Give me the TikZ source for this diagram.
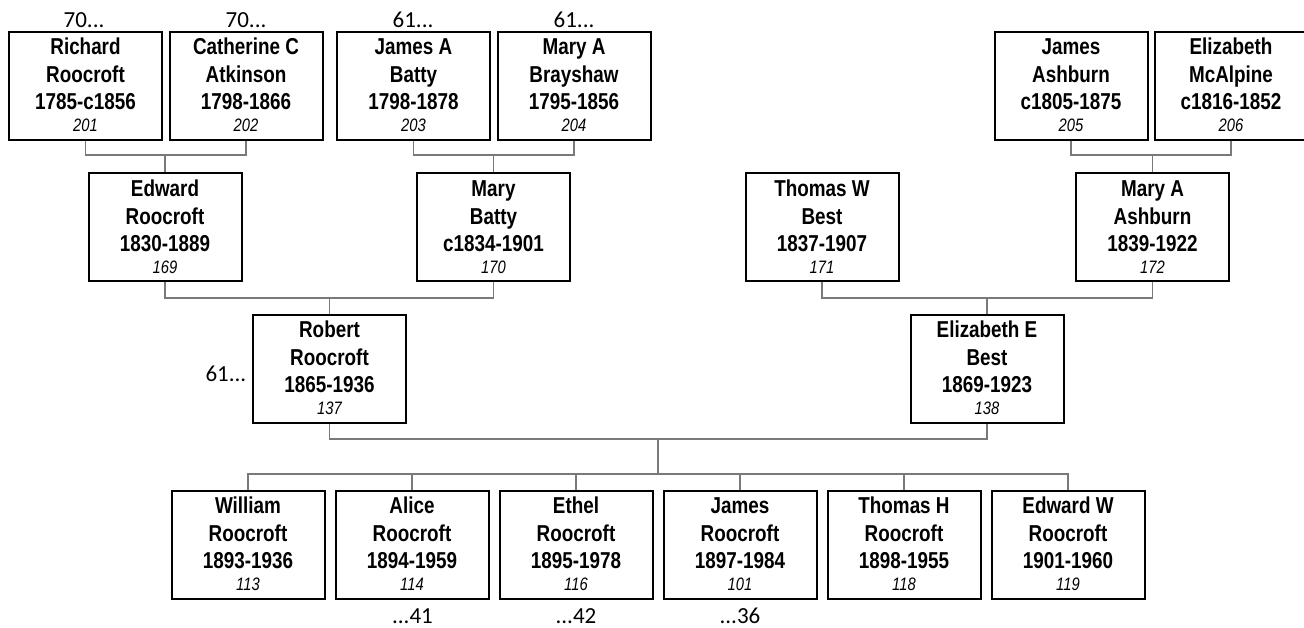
\documentclass[tikz,border=0pt]{standalone}
\usepackage{fontspec}
\setmainfont[FakeStretch=0.82]{Liberation Sans}
\newfontfamily\lblfont{Carlito}
\usetikzlibrary{calc}
\tikzset{
  pbox/.style={draw=black, line width=2pt, outer sep=1pt, fill=white,
    minimum width=153pt, minimum height=108pt, inner sep=0pt},
  nametext/.style={anchor=base, inner sep=0pt, font=\fontsize{23}{27}\selectfont\bfseries},
  numtext/.style={anchor=base, inner sep=0pt, font=\fontsize{18}{22}\selectfont\itshape},
  lbl/.style={inner sep=0pt, font=\lblfont\fontsize{23}{26}\selectfont},
  conn/.style={draw=gray!95!black, line width=1.6pt}
}
\newcommand{\person}[7]{%
  \node[pbox] (#1) at (#2,#3) {};
  \node[nametext] (#1-a) at (#2,#3-31) {#4};
  \node[nametext] (#1-b) at (#2,#3-3) {#5};
  \node[nametext] (#1-c) at (#2,#3+24) {#6};
  \node[numtext] (#1-d) at (#2,#3+46) {#7};
}
\begin{document}
\begin{tikzpicture}[x=1pt,y=-1pt]
\useasboundingbox (0,0) rectangle (1304,627);
\clip (0,0) rectangle (1304,627);
\fill[white] (0,0) rectangle (1304,627);
% levels
\coordinate (L1) at (0,155);
\coordinate (L2) at (0,298);
\coordinate (L3) at (0,439);
\coordinate (L4) at (0,474);
% row 1
\person{rich}{85.5}{85.5}{Richard}{Roocroft}{1785-c1856}{201}
\person{cath}{246}{85.5}{Catherine C}{Atkinson}{1798-1866}{202}
\person{jamesa}{413.5}{85.5}{James A}{Batty}{1798-1878}{203}
\person{marybr}{574}{85.5}{Mary A}{Brayshaw}{1795-1856}{204}
\person{jamesash}{1071}{85.5}{James}{Ashburn}{c1805-1875}{205}
\person{elizmc}{1231}{85.5}{Elizabeth}{McAlpine}{c1816-1852}{206}
% row 2
\person{edw}{165}{227}{Edward}{Roocroft}{1830-1889}{169}
\person{marybat}{493.5}{227}{Mary}{Batty}{c1834-1901}{170}
\person{thomw}{822}{227}{Thomas W}{Best}{1837-1907}{171}
\person{maryash}{1152.5}{227}{Mary A}{Ashburn}{1839-1922}{172}
% row 3
\person{rob}{329.5}{368.5}{Robert}{Roocroft}{1865-1936}{137}
\person{elizb}{987}{368.5}{Elizabeth E}{Best}{1869-1923}{138}
% row 4
\person{c1}{248}{544.5}{William}{Roocroft}{1893-1936}{113}
\person{c2}{412}{544.5}{Alice}{Roocroft}{1894-1959}{114}
\person{c3}{576}{544.5}{Ethel}{Roocroft}{1895-1978}{116}
\person{c4}{740}{544.5}{James}{Roocroft}{1897-1984}{101}
\person{c5}{904}{544.5}{Thomas H}{Roocroft}{1898-1955}{118}
\person{c6}{1068}{544.5}{Edward W}{Roocroft}{1901-1960}{119}
% connectors row1 -> row2
\draw[conn] (rich.south) -- (rich.south |- L1) -- (cath.south |- L1) -- (cath.south);
\draw[conn] (edw.north) -- (edw.north |- L1);
\draw[conn] (jamesa.south) -- (jamesa.south |- L1) -- (marybr.south |- L1) -- (marybr.south);
\draw[conn] (marybat.north) -- (marybat.north |- L1);
\draw[conn] (jamesash.south) -- (jamesash.south |- L1) -- (elizmc.south |- L1) -- (elizmc.south);
\draw[conn] (maryash.north) -- (maryash.north |- L1);
% row2 -> row3
\draw[conn] (edw.south) -- (edw.south |- L2) -- (marybat.south |- L2) -- (marybat.south);
\draw[conn] (rob.north) -- (rob.north |- L2);
\draw[conn] (thomw.south) -- (thomw.south |- L2) -- (maryash.south |- L2) -- (maryash.south);
\draw[conn] (elizb.north) -- (elizb.north |- L2);
% row3 -> children
\draw[conn] (rob.south) -- (rob.south |- L3) -- (elizb.south |- L3) -- (elizb.south);
\coordinate (m3) at ($(rob.south |- L3)!0.5!(elizb.south |- L3)$);
\draw[conn] (m3) -- (m3 |- L4);
\draw[conn] (c1.north) -- (c1.north |- L4) -- (c6.north |- L4) -- (c6.north);
\foreach \c in {c2,c3,c4,c5} \draw[conn] (\c.north) -- (\c.north |- L4);
% labels
\node[lbl, anchor=base] (t1) at (84,27.5) {70...};
\node[lbl, anchor=base] (t2) at (246,27.5) {70...};
\node[lbl, anchor=base] (t3) at (413,27.5) {61...};
\node[lbl, anchor=base] (t4) at (574,27.5) {61...};
\node[lbl, anchor=base east] (t5) at (246.5,381) {61...};
\node[lbl, anchor=base] (t6) at (412.5,623.5) {...41};
\node[lbl, anchor=base] (t7) at (576,623.5) {...42};
\node[lbl, anchor=base] (t8) at (740,623.5) {...36};
\end{tikzpicture}
\end{document}
